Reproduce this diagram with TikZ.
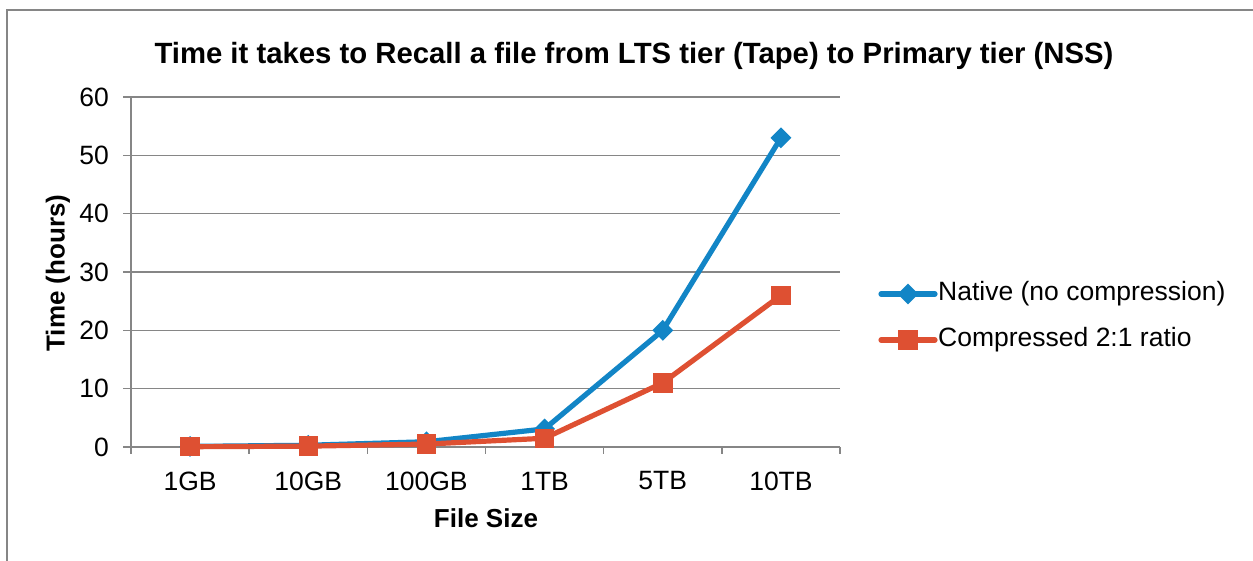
\documentclass[tikz,border=0pt]{standalone}
\usepackage{fontspec}
\setmainfont{Liberation Sans}
\usetikzlibrary{shapes.geometric}
\definecolor{bordc}{RGB}{134,134,134}
\definecolor{gridc}{RGB}{134,134,134}
\definecolor{natc}{RGB}{18,133,198}
\definecolor{cmpc}{RGB}{222,80,50}
\tikzset{
  gridline/.style={draw=gridc, line width=1.6},
  ticklab/.style={font=\fontsize{26.5}{30}\selectfont, inner sep=0},
  axtitle/.style={font=\fontsize{26}{30}\selectfont\bfseries, inner sep=0},
  natline/.style={draw=natc, line width=5.2, line join=round, line cap=round},
  cmpline/.style={draw=cmpc, line width=5.2, line join=round, line cap=round},
  natmark/.style={diamond, fill=natc, inner sep=0, minimum size=21},
  cmpmark/.style={rectangle, fill=cmpc, inner sep=0, minimum size=19.5},
}
\begin{document}
\begin{tikzpicture}[x=1pt,y=-1pt]
\useasboundingbox (0,0) rectangle (1253,560);
% outer frame (right and bottom sides are outside the picture)
\draw[bordc, line width=2] (7,570) -- (7,9.5) -- (1263,9.5);
% title
\node[font=\fontsize{29.3}{33}\selectfont\bfseries, inner sep=0, anchor=base] (title) at (634,63) {Time it takes to Recall a file from LTS tier (Tape) to Primary tier (NSS)};
% gridlines and y tick labels
\foreach \v/\lab in {0/0,1/10,2/20,3/30,4/40,5/50,6/60}{
  \draw[gridline] (123,{447-58.333*\v}) -- (840,{447-58.333*\v});
  \node[ticklab, anchor=east] (y\v) at (109,{447-58.333*\v}) {\lab};
}
% y axis
\draw[gridline] (131,97) -- (131,447);
% x ticks
\foreach \i in {0,...,6}{
  \draw[gridline] ({131+118.17*\i},447) -- ({131+118.17*\i},454);
}
% x tick labels
\foreach \i/\lab in {1/1GB,2/10GB,3/100GB,4/1TB,5/5TB,6/10TB}{
  \node[ticklab] (x\i) at ({131+118.17*(\i-0.5)},481) {\lab};
}
% axis titles
\node[axtitle] (xtitle) at (486,518) {File Size};
\node[axtitle, rotate=90] (ytitle) at (58,273) {Time (hours)};
% data coordinates
\foreach \i/\n/\c in {1/0.1/0.05,2/0.3/0.15,3/0.9/0.5,4/3.1/1.5,5/20/11,6/53/26}{
  \coordinate (n\i) at ({131+118.17*(\i-0.5)},{447-5.8333*\n});
  \coordinate (c\i) at ({131+118.17*(\i-0.5)},{447-5.8333*\c});
}
% native series
\draw[natline] (n1) -- (n2) -- (n3) -- (n4) -- (n5) -- (n6);
\foreach \i in {1,...,6}{\node[natmark] (nm\i) at (n\i) {};}
% compressed series
\draw[cmpline] (c1) -- (c2) -- (c3) -- (c4) -- (c5) -- (c6);
\foreach \i in {1,...,6}{\node[cmpmark] (cm\i) at (c\i) {};}
% legend
\coordinate (ln1) at (881,294);
\coordinate (ln2) at (935,294);
\draw[natline] (ln1) -- (ln2);
\node[natmark] (lnm) at (908,294) {};
\node[ticklab, anchor=west] (lnt) at (938,294) {Native (no compression)};
\coordinate (lc1) at (881,340);
\coordinate (lc2) at (935,340);
\draw[cmpline] (lc1) -- (lc2);
\node[cmpmark] (lcm) at (908,340) {};
\node[ticklab, anchor=west] (lct) at (938,340) {Compressed 2:1 ratio};
\end{tikzpicture}
\end{document}
